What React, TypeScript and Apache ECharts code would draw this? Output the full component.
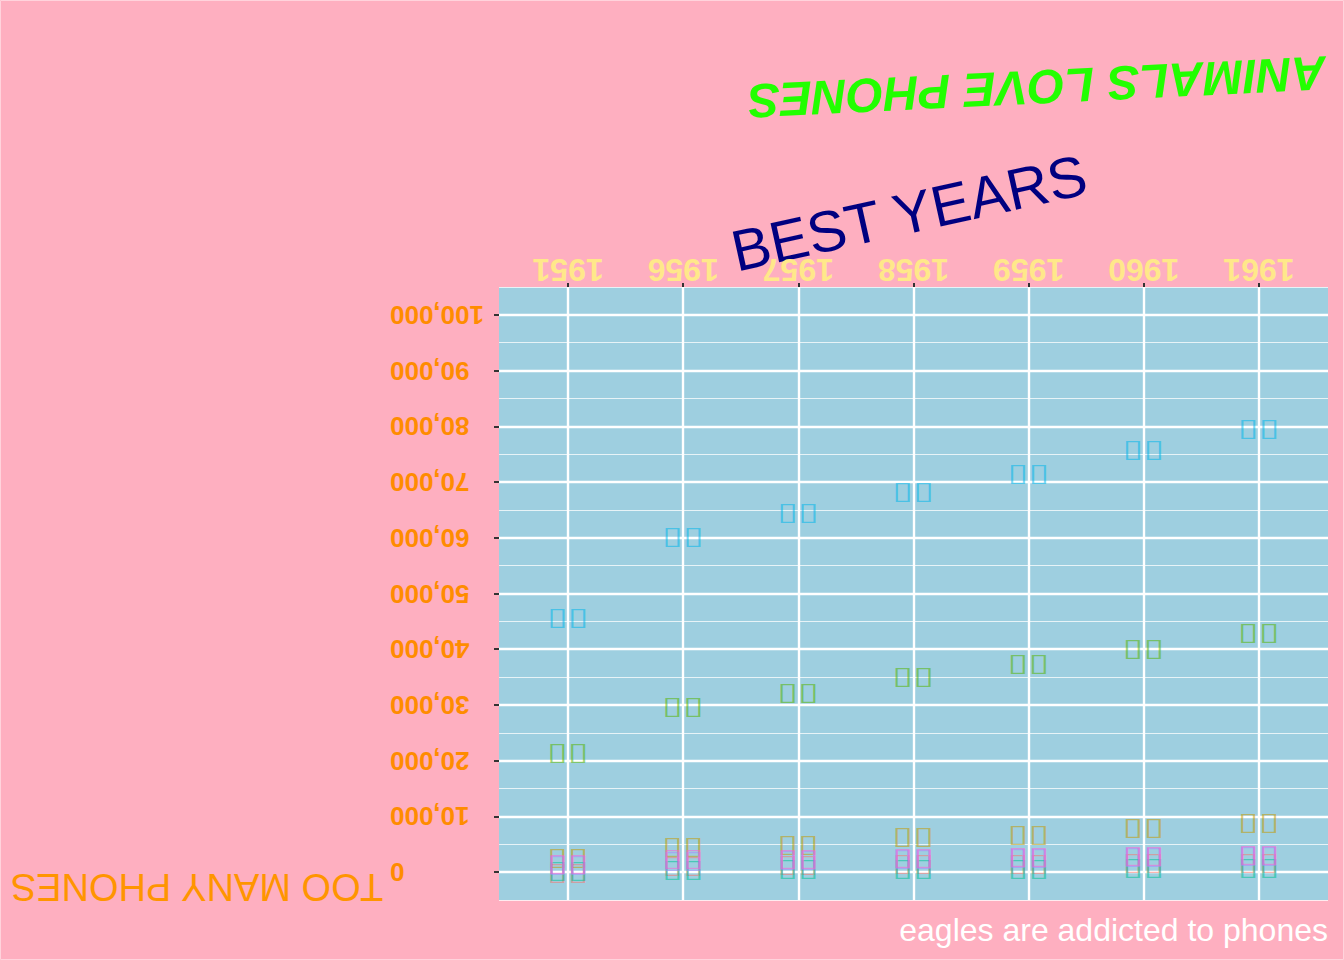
import React, { useEffect, useRef } from 'react';
import * as echarts from 'echarts';

const years = ['1951', '1956', '1957', '1958', '1959', '1960', '1961'];
const regions = ['Africa', 'Asia', 'Europe', 'Mid.Amer', 'N.Amer', 'Oceania', 'S.Amer'];
const africa = [89, 1411, 1546, 1663, 1769, 1905, 2005];
const asia = [2876, 4708, 5230, 6662, 6856, 8220, 9053];
const europe = [21574, 29990, 32510, 35218, 37598, 40341, 43173];
const midAmer = [555, 733, 773, 836, 911, 1008, 1076];
const nAmer = [45939, 60423, 64721, 68484, 71799, 76036, 79831];
const oceania = [1646, 2366, 2526, 2691, 2868, 3054, 3224];
const sAmer = [1815, 2568, 2695, 2845, 3000, 3145, 3338];
const regionValues = [africa, asia, europe, midAmer, nAmer, oceania, sAmer];
const regionMarks = ['▯▯', '▯▯', '▯▯', '▯▯', '▯▯', '▯▯', '▯▯'];
const regionColors = ['#F8766D', '#C49A00', '#53B400', '#00C094', '#00B6EB', '#A58AFF', '#FB61D7'];
const yTicks = [0, 10000, 20000, 30000, 40000, 50000, 60000, 70000, 80000, 90000, 100000];
const xTicks = [0, 1, 2, 3, 4, 5, 6];

const titleText = 'ANIMALS LOVE PHONES';
const subtitleText = 'BEST YEARS';
const yName = 'TOO MANY PHONES';
const caption = 'eagles are addicted to phones';

export default function App() {
  const ref = useRef<HTMLDivElement>(null);
  useEffect(() => {
    if (!ref.current) return;
    const chart = echarts.init(ref.current, null, { renderer: 'svg' });
    const font = 'Liberation Sans, Arial, Helvetica, sans-serif';
    const series = regions.map((name, r) => ({
      name,
      type: 'custom',
      xAxisIndex: 0,
      yAxisIndex: 0,
      encode: { x: 0, y: 1 },
      renderItem: (params: any, api: any) => {
        const pt = api.coord([api.value(0), api.value(1)]);
        return {
          type: 'text',
          x: pt[0],
          y: pt[1],
          scaleY: 0.66,
          style: {
            text: regionMarks[r],
            x: 0,
            y: 0,
            fill: regionColors[r],
            opacity: 0.55,
            fontSize: 38,
            fontFamily: 'DejaVu Sans',
            align: 'center',
            verticalAlign: 'middle',
          },
        };
      },
      data: regionValues[r].map((v, i) => [i, v]),
      z: 5,
    }));
    chart.setOption({
      animation: false,
      backgroundColor: '#feafc0',
      textStyle: { fontFamily: font },
      grid: {
        left: 499,
        top: 287,
        right: 16,
        bottom: 60,
        show: true,
        backgroundColor: '#9ecfe0',
        borderWidth: 0,
      },
      xAxis: [
        {
          type: 'value',
          position: 'top',
          min: -0.6,
          max: 6.6,
          axisLine: { show: false, onZero: false },
          axisTick: {
            show: true,
            customValues: xTicks,
            length: 4,
            lineStyle: { color: '#333333', width: 2 },
          },
          axisLabel: {
            customValues: xTicks,
            formatter: (v: number) => years[Math.round(v)],
            rotate: 180,
            margin: 1,
            color: '#ffe88a',
            fontSize: 32,
            fontWeight: 'bold',
            fontFamily: font,
          },
          splitLine: { show: true, lineStyle: { color: '#ffffff', width: 2.4 } },
        },
      ],
      yAxis: [
        {
          type: 'value',
          position: 'left',
          min: -5000,
          max: 105000,
          axisLine: { show: false, onZero: false },
          axisTick: {
            show: true,
            customValues: yTicks,
            length: 5,
            lineStyle: { color: '#333333', width: 2 },
          },
          axisLabel: {
            customValues: yTicks,
            formatter: (v: number) => v.toLocaleString('en-US'),
            rotate: 180,
            align: 'right',
            margin: 109,
            color: '#ff8c00',
            fontSize: 26,
            fontWeight: 'bold',
            fontFamily: font,
          },
          splitLine: { show: true, lineStyle: { color: '#ffffff', width: 2.4 } },
          z: 3,
        },
        {
          type: 'value',
          position: 'left',
          min: -5000,
          max: 105000,
          interval: 5000,
          axisLine: { show: false, onZero: false },
          axisTick: { show: false },
          axisLabel: { show: false },
          splitLine: { show: true, lineStyle: { color: 'rgba(255,255,255,0.75)', width: 1.2 } },
          z: 2,
        },
      ],
      series,
      graphic: [
        {
          type: 'rect',
          shape: { x: 0.5, y: 0.5, width: 1343, height: 959 },
          style: { fill: 'none', stroke: '#ffd3dc', lineWidth: 1 },
          silent: true,
        },
        {
          type: 'text',
          x: 1037,
          y: 87,
          rotation: (182.8 * Math.PI) / 180,
          style: {
            text: titleText,
            x: 0,
            y: 0,
            align: 'center',
            verticalAlign: 'middle',
            fill: '#22ff00',
            fontSize: 48,
            fontWeight: 'bold',
            fontStyle: 'italic',
            fontFamily: font,
          },
        },
        {
          type: 'text',
          x: 909,
          y: 213,
          rotation: (12.5 * Math.PI) / 180,
          style: {
            text: subtitleText,
            x: 0,
            y: 0,
            align: 'center',
            verticalAlign: 'middle',
            fill: '#000080',
            fontSize: 58,
            fontFamily: font,
          },
        },
        {
          type: 'text',
          x: 197,
          y: 887,
          rotation: Math.PI,
          style: {
            text: yName,
            x: 0,
            y: 0,
            align: 'center',
            verticalAlign: 'middle',
            fill: '#ff9500',
            fontSize: 38,
            fontFamily: font,
          },
        },
        {
          type: 'text',
          x: 1328,
          y: 930,
          style: {
            text: caption,
            x: 0,
            y: 0,
            align: 'right',
            verticalAlign: 'middle',
            fill: '#ffffff',
            fontSize: 32,
            fontFamily: font,
          },
        },
      ],
    });
    return () => chart.dispose();
  }, []);
  return (
    <div
      ref={ref}
      style={{ position: 'absolute', left: 0, top: 0, width: 1344, height: 960 }}
    />
  );
}
